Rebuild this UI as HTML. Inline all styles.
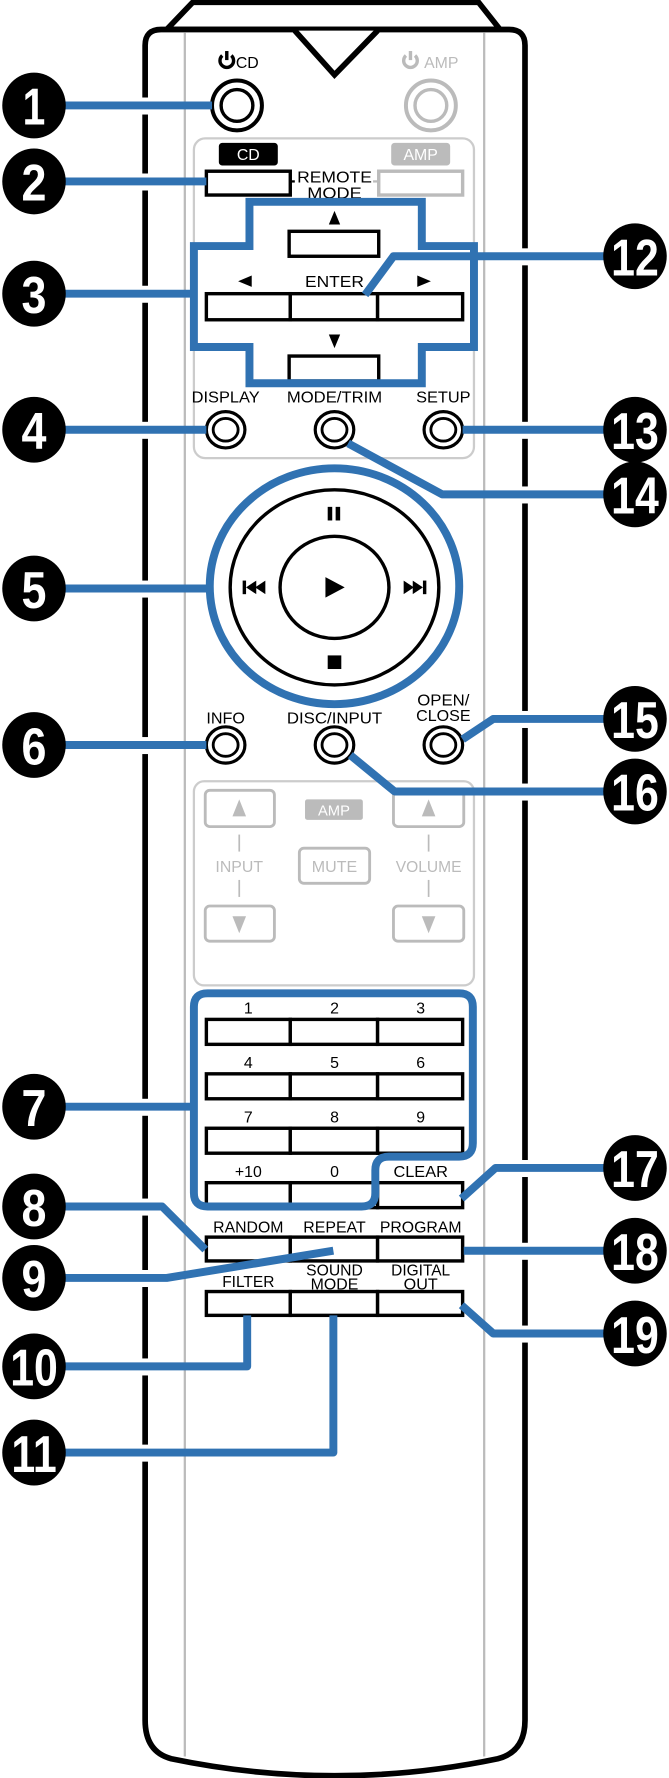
<!DOCTYPE html>
<html><head><meta charset="utf-8"><style>
html,body{margin:0;padding:0;background:#fff;}
svg{display:block;}
text{font-family:"Liberation Sans",sans-serif;}
</style></head><body>
<svg width="669" height="1778" viewBox="0 0 590 1568" preserveAspectRatio="none" xmlns="http://www.w3.org/2000/svg">
<path d="M170,2 L422,2 L441,26 L147,26 Z" fill="#fff" stroke="#000" stroke-width="5" stroke-linejoin="miter"/>
<path d="M128,1517 L128,40 Q128,26 142,26 L449,26 Q463,26 463,40 L463,1517 Q463,1545 439,1551 Q367,1566 295,1566 Q223,1566 151,1551 Q128,1545 128,1517 Z" fill="#fff" stroke="#000" stroke-width="5"/>
<path d="M260,27 L295,66 L333,27" fill="#fff" stroke="#000" stroke-width="5"/>
<line x1="163" y1="29" x2="163" y2="1549" stroke="#bbb" stroke-width="2"/>
<line x1="427" y1="29" x2="427" y2="1549" stroke="#bbb" stroke-width="2"/>
<g fill="#fff">
<rect x="124" y="86" width="9" height="15"/><rect x="124" y="153" width="9" height="15"/><rect x="124" y="252" width="9" height="15"/><rect x="124" y="372" width="9" height="15"/><rect x="124" y="512" width="9" height="15"/><rect x="124" y="650" width="9" height="15"/><rect x="124" y="969" width="9" height="15"/><rect x="124" y="1057" width="9" height="15"/><rect x="124" y="1120" width="9" height="15"/><rect x="124" y="1198" width="9" height="15"/><rect x="124" y="1274" width="9" height="15"/>
<rect x="458" y="219" width="9" height="15"/><rect x="458" y="372" width="9" height="15"/><rect x="458" y="429" width="9" height="15"/><rect x="458" y="627" width="9" height="15"/><rect x="458" y="691" width="9" height="15"/><rect x="458" y="1023" width="9" height="15"/><rect x="458" y="1096" width="9" height="15"/><rect x="458" y="1169" width="9" height="15"/>
</g>
<g fill="none" stroke="#000" stroke-width="3">
<path d="M196,49 A6,6 0 1 0 204,49"/><line x1="200" y1="45" x2="200" y2="53"/>
</g>
<text x="208" y="60" font-size="14">CD</text>
<g fill="none" stroke="#bbb" stroke-width="3">
<path d="M358,49 A6,6 0 1 0 366,49"/><line x1="362" y1="45" x2="362" y2="53"/>
</g>
<text x="374" y="60" font-size="14" fill="#bbb">AMP</text>
<circle cx="209" cy="93" r="22" fill="#fff" stroke="#000" stroke-width="3.5"/>
<circle cx="209" cy="93" r="14" fill="none" stroke="#000" stroke-width="3"/>
<circle cx="380" cy="93" r="22" fill="#fff" stroke="#bbb" stroke-width="3.5"/>
<circle cx="380" cy="93" r="14" fill="none" stroke="#bbb" stroke-width="3"/>
<rect x="171" y="122" width="247" height="282" rx="10" fill="none" stroke="#ccc" stroke-width="2"/>
<rect x="193" y="126" width="52" height="20" rx="3" fill="#000"/>
<text x="219" y="141" font-size="14" fill="#fff" text-anchor="middle">CD</text>
<rect x="345" y="126" width="52" height="20" rx="3" fill="#bbb"/>
<text x="371" y="141" font-size="14" fill="#fff" text-anchor="middle">AMP</text>
<rect x="182" y="151" width="74" height="21" fill="#fff" stroke="#000" stroke-width="3"/>
<rect x="334" y="151" width="74" height="21" fill="#fff" stroke="#bbb" stroke-width="3"/>
<line x1="256" y1="160" x2="260" y2="160" stroke="#000" stroke-width="2"/>
<line x1="329" y1="160" x2="334" y2="160" stroke="#bbb" stroke-width="2"/>
<text x="295" y="161" font-size="14" text-anchor="middle" textLength="66" lengthAdjust="spacingAndGlyphs">REMOTE</text>
<text x="295" y="175" font-size="14" text-anchor="middle" textLength="48" lengthAdjust="spacingAndGlyphs">MODE</text>
<polygon points="295,186 290,198 300,198" fill="#000"/>
<rect x="255" y="204" width="79" height="22" fill="#fff" stroke="#000" stroke-width="3"/>
<polygon points="210,248 222,243 222,253" fill="#000"/>
<text x="295" y="253" font-size="14" text-anchor="middle" textLength="52" lengthAdjust="spacingAndGlyphs">ENTER</text>
<polygon points="380,248 368,243 368,253" fill="#000"/>
<rect x="182" y="259" width="74" height="23" fill="#fff" stroke="#000" stroke-width="3"/>
<rect x="256" y="259" width="77" height="23" fill="#fff" stroke="#000" stroke-width="3"/>
<rect x="333" y="259" width="75" height="23" fill="#fff" stroke="#000" stroke-width="3"/>
<polygon points="295,307 290,295 300,295" fill="#000"/>
<rect x="255" y="314" width="79" height="22" fill="#fff" stroke="#000" stroke-width="3"/>
<text x="199" y="355" font-size="14" text-anchor="middle" textLength="60" lengthAdjust="spacingAndGlyphs">DISPLAY</text>
<text x="295" y="355" font-size="14" text-anchor="middle" textLength="84" lengthAdjust="spacingAndGlyphs">MODE/TRIM</text>
<text x="391" y="355" font-size="14" text-anchor="middle" textLength="48" lengthAdjust="spacingAndGlyphs">SETUP</text>
<g fill="#fff" stroke="#000" stroke-width="2.8">
<ellipse cx="199" cy="379" rx="17" ry="16"/><ellipse cx="295" cy="379" rx="17" ry="16"/><ellipse cx="391" cy="379" rx="17" ry="16"/>
</g>
<g fill="none" stroke="#000" stroke-width="2.5">
<ellipse cx="199" cy="379" rx="11" ry="10"/><ellipse cx="295" cy="379" rx="11" ry="10"/><ellipse cx="391" cy="379" rx="11" ry="10"/>
</g>
<ellipse cx="295" cy="518" rx="92" ry="86" fill="#fff" stroke="#000" stroke-width="3"/>
<ellipse cx="295" cy="518" rx="48" ry="45" fill="#fff" stroke="#000" stroke-width="3"/>
<rect x="289" y="447" width="4" height="12" fill="#000"/><rect x="296" y="447" width="4" height="12" fill="#000"/>
<rect x="289" y="578" width="12" height="12" fill="#000"/>
<polygon points="287,509 287,527 304,518" fill="#000"/>
<rect x="214" y="512" width="3" height="12" fill="#000"/><polygon points="217,518 226,512 226,524" fill="#000"/><polygon points="225,518 234,512 234,524" fill="#000"/>
<polygon points="356,512 365,518 356,524" fill="#000"/><polygon points="364,512 373,518 364,524" fill="#000"/><rect x="373" y="512" width="3" height="12" fill="#000"/>
<text x="199" y="638" font-size="14" text-anchor="middle" textLength="34" lengthAdjust="spacingAndGlyphs">INFO</text>
<text x="295" y="638" font-size="14" text-anchor="middle" textLength="84" lengthAdjust="spacingAndGlyphs">DISC/INPUT</text>
<text x="391" y="622" font-size="14" text-anchor="middle" textLength="46" lengthAdjust="spacingAndGlyphs">OPEN/</text>
<text x="391" y="636" font-size="14" text-anchor="middle" textLength="48" lengthAdjust="spacingAndGlyphs">CLOSE</text>
<g fill="#fff" stroke="#000" stroke-width="2.8">
<ellipse cx="199" cy="657" rx="17" ry="16"/><ellipse cx="295" cy="657" rx="17" ry="16"/><ellipse cx="391" cy="657" rx="17" ry="16"/>
</g>
<g fill="none" stroke="#000" stroke-width="2.5">
<ellipse cx="199" cy="657" rx="11" ry="10"/><ellipse cx="295" cy="657" rx="11" ry="10"/><ellipse cx="391" cy="657" rx="11" ry="10"/>
</g>
<rect x="171" y="689" width="247" height="180" rx="9" fill="none" stroke="#ccc" stroke-width="2"/>
<rect x="269" y="705" width="51" height="18" rx="2" fill="#bbb"/>
<text x="294.5" y="719" font-size="13" fill="#fff" text-anchor="middle">AMP</text>
<g fill="#fff" stroke="#bbb" stroke-width="2.5">
<rect x="181" y="697" width="61" height="32" rx="4"/><rect x="347" y="697" width="62" height="32" rx="4"/>
<rect x="181" y="799" width="61" height="31" rx="4"/><rect x="347" y="799" width="62" height="31" rx="4"/>
<rect x="264" y="748" width="62" height="31" rx="4"/>
</g>
<g fill="#bbb">
<polygon points="211,705 205,720 217,720"/><polygon points="378,705 372,720 384,720"/>
<polygon points="211,823 205,808 217,808"/><polygon points="378,823 372,808 384,808"/>
</g>
<g stroke="#bbb" stroke-width="1.5">
<line x1="211" y1="736" x2="211" y2="751"/><line x1="211" y1="776" x2="211" y2="791"/>
<line x1="378" y1="736" x2="378" y2="751"/><line x1="378" y1="776" x2="378" y2="791"/>
</g>
<text x="211" y="769" font-size="13.5" fill="#bbb" text-anchor="middle" textLength="42" lengthAdjust="spacingAndGlyphs">INPUT</text>
<text x="295" y="769" font-size="13.5" fill="#bbb" text-anchor="middle" textLength="40" lengthAdjust="spacingAndGlyphs">MUTE</text>
<text x="378" y="769" font-size="13.5" fill="#bbb" text-anchor="middle" textLength="58" lengthAdjust="spacingAndGlyphs">VOLUME</text>
<g font-size="14" text-anchor="middle">
<text x="219" y="894">1</text><text x="295" y="894">2</text><text x="371" y="894">3</text>
<text x="219" y="942">4</text><text x="295" y="942">5</text><text x="371" y="942">6</text>
<text x="219" y="990">7</text><text x="295" y="990">8</text><text x="371" y="990">9</text>
<text x="219" y="1038">+10</text><text x="295" y="1038">0</text><text x="371" y="1038" textLength="48" lengthAdjust="spacingAndGlyphs">CLEAR</text>
<text x="219" y="1087" textLength="62" lengthAdjust="spacingAndGlyphs">RANDOM</text><text x="295" y="1087" textLength="55" lengthAdjust="spacingAndGlyphs">REPEAT</text><text x="371" y="1087" textLength="72" lengthAdjust="spacingAndGlyphs">PROGRAM</text>
<text x="219" y="1135" textLength="46" lengthAdjust="spacingAndGlyphs">FILTER</text>
<text x="295" y="1125" textLength="50" lengthAdjust="spacingAndGlyphs">SOUND</text><text x="295" y="1137" textLength="42" lengthAdjust="spacingAndGlyphs">MODE</text>
<text x="371" y="1125" textLength="52" lengthAdjust="spacingAndGlyphs">DIGITAL</text><text x="371" y="1137" textLength="30" lengthAdjust="spacingAndGlyphs">OUT</text>
</g>
<g fill="#fff" stroke="#000" stroke-width="3">
<rect x="182" y="899" width="74" height="22"/><rect x="256" y="899" width="77" height="22"/><rect x="333" y="899" width="75" height="22"/>
<rect x="182" y="947" width="74" height="22"/><rect x="256" y="947" width="77" height="22"/><rect x="333" y="947" width="75" height="22"/>
<rect x="182" y="995" width="74" height="22"/><rect x="256" y="995" width="77" height="22"/><rect x="333" y="995" width="75" height="22"/>
<rect x="182" y="1043" width="74" height="22"/><rect x="256" y="1043" width="77" height="22"/><rect x="333" y="1043" width="75" height="22"/>
<rect x="182" y="1091" width="74" height="21"/><rect x="256" y="1091" width="77" height="21"/><rect x="333" y="1091" width="75" height="21"/>
<rect x="182" y="1139" width="74" height="21"/><rect x="256" y="1139" width="77" height="21"/><rect x="333" y="1139" width="75" height="21"/>
</g>
<g fill="none" stroke="#3072b2" stroke-width="7" stroke-linejoin="round">
<path d="M220,178 L372,178 L372,217 L418,217 L418,306 L372,306 L372,338 L220,338 L220,306 L171,306 L171,217 L220,217 Z" stroke-linejoin="miter"/>
<ellipse cx="295" cy="517" rx="110" ry="104"/>
<path d="M171,888 Q171,876 183,876 L405,876 Q417,876 417,888 L417,1008 Q417,1020 405,1020 L343,1020 Q331,1020 331,1032 L331,1052 Q331,1064 319,1064 L183,1064 Q171,1064 171,1052 Z"/>
<line x1="40" y1="93" x2="187" y2="93"/>
<line x1="40" y1="160" x2="182" y2="160"/>
<line x1="40" y1="259" x2="171" y2="259"/>
<line x1="40" y1="379" x2="182" y2="379"/>
<line x1="40" y1="519" x2="185" y2="519"/>
<line x1="40" y1="657" x2="182" y2="657"/>
<line x1="40" y1="976" x2="171" y2="976"/>
<path d="M40,1064 L143,1064 L181,1102"/>
<path d="M40,1127 L147,1127 L294,1103"/>
<path d="M40,1205 L218,1205 L218,1160"/>
<path d="M40,1281 L294,1281 L294,1160"/>
<path d="M550,226 L347,226 L322,260"/>
<line x1="408" y1="379" x2="550" y2="379"/>
<path d="M307,391 L390,436 L550,436"/>
<path d="M408,652 L435,634 L550,634"/>
<path d="M309,666 L348,698 L550,698"/>
<path d="M407,1057 L437,1030 L550,1030"/>
<line x1="409" y1="1103" x2="550" y2="1103"/>
<path d="M407,1151 L435,1176 L550,1176"/>
</g>
<g fill="#000">
<ellipse cx="30" cy="93" rx="28" ry="29"/><ellipse cx="30" cy="160" rx="28" ry="29"/><ellipse cx="30" cy="259" rx="28" ry="29"/><ellipse cx="30" cy="379" rx="28" ry="29"/><ellipse cx="30" cy="519" rx="28" ry="29"/><ellipse cx="30" cy="657" rx="28" ry="29"/><ellipse cx="30" cy="976" rx="28" ry="29"/><ellipse cx="30" cy="1064" rx="28" ry="29"/><ellipse cx="30" cy="1127" rx="28" ry="29"/><ellipse cx="30" cy="1205" rx="28" ry="29"/><ellipse cx="30" cy="1281" rx="28" ry="29"/>
<ellipse cx="560" cy="226" rx="28" ry="29"/><ellipse cx="560" cy="379" rx="28" ry="29"/><ellipse cx="560" cy="436" rx="28" ry="29"/><ellipse cx="560" cy="634" rx="28" ry="29"/><ellipse cx="560" cy="698" rx="28" ry="29"/><ellipse cx="560" cy="1030" rx="28" ry="29"/><ellipse cx="560" cy="1103" rx="28" ry="29"/><ellipse cx="560" cy="1176" rx="28" ry="29"/>
</g>
<g fill="#fff" font-size="46" font-weight="bold" text-anchor="middle">
<text x="30" y="110" textLength="20" lengthAdjust="spacingAndGlyphs">1</text>
<text x="30" y="177" textLength="22" lengthAdjust="spacingAndGlyphs">2</text>
<text x="30" y="276" textLength="22" lengthAdjust="spacingAndGlyphs">3</text>
<text x="30" y="396" textLength="22" lengthAdjust="spacingAndGlyphs">4</text>
<text x="30" y="536" textLength="22" lengthAdjust="spacingAndGlyphs">5</text>
<text x="30" y="674" textLength="22" lengthAdjust="spacingAndGlyphs">6</text>
<text x="30" y="993" textLength="22" lengthAdjust="spacingAndGlyphs">7</text>
<text x="30" y="1081" textLength="22" lengthAdjust="spacingAndGlyphs">8</text>
<text x="30" y="1144" textLength="22" lengthAdjust="spacingAndGlyphs">9</text>
<text x="30" y="1222" textLength="42" lengthAdjust="spacingAndGlyphs">10</text>
<text x="30" y="1298" textLength="40" lengthAdjust="spacingAndGlyphs">11</text>
<text x="560" y="243" textLength="42" lengthAdjust="spacingAndGlyphs">12</text>
<text x="560" y="396" textLength="42" lengthAdjust="spacingAndGlyphs">13</text>
<text x="560" y="453" textLength="42" lengthAdjust="spacingAndGlyphs">14</text>
<text x="560" y="651" textLength="42" lengthAdjust="spacingAndGlyphs">15</text>
<text x="560" y="715" textLength="42" lengthAdjust="spacingAndGlyphs">16</text>
<text x="560" y="1047" textLength="42" lengthAdjust="spacingAndGlyphs">17</text>
<text x="560" y="1120" textLength="42" lengthAdjust="spacingAndGlyphs">18</text>
<text x="560" y="1193" textLength="42" lengthAdjust="spacingAndGlyphs">19</text>
</g>
</svg>
</body></html>
